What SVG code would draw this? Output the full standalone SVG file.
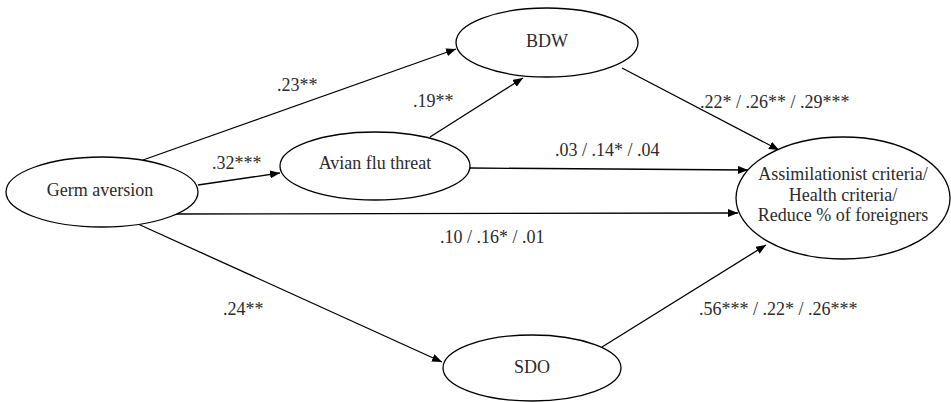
<svg xmlns="http://www.w3.org/2000/svg" width="951" height="402" viewBox="0 0 951 402">
  <style>
    .node ellipse { fill: #ffffff; stroke: #000000; stroke-width: 1.3; }
    .node text { font-family: "Liberation Serif", "Times New Roman", serif; font-size: 18px; fill: #2b2b2b; text-anchor: middle; }
    .edge line { stroke: #000000; stroke-width: 1.3; marker-end: url(#arrow); }
    .coef text { font-family: "Liberation Serif", "Times New Roman", serif; font-size: 18px; fill: #2b2b2b; }
  </style>
  <defs>
    <marker id="arrow" viewBox="0 0 10 8" refX="10" refY="4" markerWidth="10" markerHeight="8" markerUnits="userSpaceOnUse" orient="auto">
      <path d="M0,0 L10,4 L0,8 Z" fill="#000000"/>
    </marker>
  </defs>
  <rect width="951" height="402" fill="#ffffff"/>

  <!-- paths between constructs -->
  <g id="connectors" class="edge">
    <line x1="143" y1="160" x2="456" y2="49"/>
    <line x1="198" y1="185" x2="280" y2="173"/>
    <line x1="175" y1="214" x2="738" y2="213"/>
    <line x1="138" y1="224" x2="442" y2="362"/>
    <line x1="430" y1="137" x2="523" y2="78"/>
    <line x1="470" y1="168" x2="748" y2="170"/>
    <line x1="622" y1="68" x2="779" y2="150"/>
    <line x1="602" y1="347" x2="766" y2="245"/>
  </g>

  <g id="germ-aversion" class="node">
    <ellipse cx="102" cy="192" rx="96" ry="35"/>
    <text x="100" y="196">Germ aversion</text>
  </g>
  <g id="avian-flu-threat" class="node">
    <ellipse cx="375" cy="166" rx="95" ry="34"/>
    <text x="375" y="169">Avian flu threat</text>
  </g>
  <g id="bdw" class="node">
    <ellipse cx="547" cy="42.5" rx="91" ry="34.5"/>
    <text x="547" y="47">BDW</text>
  </g>
  <g id="sdo" class="node">
    <ellipse cx="532" cy="368" rx="89" ry="33"/>
    <text x="532" y="373">SDO</text>
  </g>
  <g id="outcomes" class="node">
    <ellipse cx="843" cy="198" rx="107" ry="61"/>
    <text x="843" y="180">Assimilationist criteria/</text>
    <text x="843" y="200.5">Health criteria/</text>
    <text x="843" y="221">Reduce % of foreigners</text>
  </g>

  <!-- path coefficients -->
  <g id="coefficients" class="coef">
    <text x="277" y="91">.23**</text>
    <text x="212" y="169">.32***</text>
    <text x="413" y="107">.19**</text>
    <text x="555" y="156">.03 / .14* / .04</text>
    <text x="440" y="243">.10 / .16* / .01</text>
    <text x="223" y="315">.24**</text>
    <text x="700" y="108">.22* / .26** / .29***</text>
    <text x="699" y="315">.56*** / .22* / .26***</text>
  </g>
</svg>
